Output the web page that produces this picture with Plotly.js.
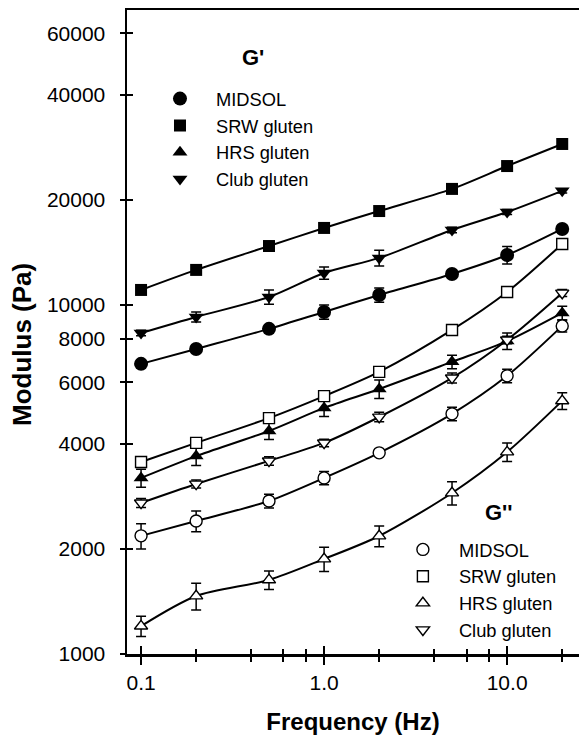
<!DOCTYPE html>
<html>
<head>
<meta charset="utf-8">
<script src="https://cdn.plot.ly/plotly-3.0.1.min.js"></script>
<style>html,body{margin:0;padding:0;background:#fff;}#chart{width:579px;height:736px;}</style>
</head>
<body>
<div id="chart"></div>
<script>
// ---- data ----
const freq = [0.1, 0.2, 0.5, 1, 2, 5, 10, 20];

const gp_midsol = [6780, 7480, 8540, 9550, 10680, 12270, 13900, 16510];
const gp_midsol_err = [150, 150, 200, 450, 500, 350, 800, 300];
const gp_srw = [11040, 12600, 14750, 16620, 18580, 21500, 25000, 28920];
const gp_srw_err = [200, 200, 250, 300, 300, 400, 450, 500];
const gp_hrs = [3195, 3690, 4355, 5070, 5745, 6870, 7880, 9490];
const gp_hrs_err = [190, 220, 240, 280, 350, 310, 430, 430];
const gp_club = [8310, 9240, 10540, 12350, 13640, 16400, 18460, 21230];
const gp_club_err = [150, 300, 500, 500, 700, 300, 300, 300];

const gpp_midsol = [2180, 2405, 2745, 3195, 3770, 4875, 6265, 8710];
const gpp_midsol_err = [180, 165, 125, 140, 70, 220, 280, 350];
const gpp_srw = [3550, 4025, 4740, 5480, 6430, 8480, 10890, 14950];
const gpp_srw_err = [100, 100, 100, 120, 150, 150, 200, 250];
const gpp_hrs = [1202, 1466, 1630, 1872, 2178, 2893, 3790, 5310];
const gpp_hrs_err = [80, 130, 100, 150, 150, 220, 230, 290];
const gpp_club = [2710, 3070, 3575, 4025, 4775, 6180, 7940, 10820];
const gpp_club_err = [80, 80, 100, 100, 150, 200, 200, 250];

const seriesNames = ["MIDSOL", "SRW gluten", "HRS gluten", "Club gluten"];
const legendTitles = ["G'", "G''"];

const xTickVals = [0.1, 1, 10];
const xTickText = ["0.1", "1.0", "10.0"];
const xMinorVals = [0.2, 0.4, 0.6, 0.8, 2, 4, 6, 8, 20];
const yTickVals = [1000, 2000, 4000, 6000, 8000, 10000, 20000, 40000, 60000];
const yTickText = ["1000", "2000", "4000", "6000", "8000", "10000", "20000", "40000", "60000"];

// ---- styling ----
const FONT = "Liberation Sans, Arial, Helvetica, sans-serif";
const xRange = [Math.log10(0.0838), Math.log10(24.7)];
const yRange = [3, 4.845];

const gpSets = [
  [gp_midsol, gp_midsol_err, {symbol: "circle", size: 14}],
  [gp_srw, gp_srw_err, {symbol: "square", size: 12}],
  [gp_hrs, gp_hrs_err, {symbol: "triangle-up", size: 13}],
  [gp_club, gp_club_err, {symbol: "triangle-down", size: 13}]
];
const gppSets = [
  [gpp_midsol, gpp_midsol_err, {symbol: "circle", size: 12}],
  [gpp_srw, gpp_srw_err, {symbol: "square", size: 11}],
  [gpp_hrs, gpp_hrs_err, {symbol: "triangle-up", size: 11.5}],
  [gpp_club, gpp_club_err, {symbol: "triangle-down", size: 11.5}]
];

const traces = [];
// smooth connecting curves (lower layer)
[...gpSets, ...gppSets].forEach(s => {
  traces.push({
    x: freq, y: s[0], mode: "lines", xaxis: "x", yaxis: "y",
    line: {color: "black", width: 2, shape: "spline", smoothing: 0.8},
    showlegend: false, hoverinfo: "skip"
  });
});
// markers with error bars (upper layer)
gpSets.forEach((s, i) => {
  traces.push({
    x: freq, y: s[0], mode: "markers", xaxis: "x2", yaxis: "y2",
    name: seriesNames[i], legend: "legend", legendgroup: "a" + i,
    marker: {symbol: s[2].symbol, size: s[2].size, color: "black", line: {width: 0}},
    error_y: {type: "data", array: s[1], visible: true, color: "black", thickness: 1.5, width: 5}
  });
});
gppSets.forEach((s, i) => {
  traces.push({
    x: freq, y: s[0], mode: "markers", xaxis: "x2", yaxis: "y2",
    name: seriesNames[i], legend: "legend2", legendgroup: "b" + i,
    marker: {symbol: s[2].symbol, size: s[2].size, color: "white", line: {width: 1.4, color: "black"}},
    error_y: {type: "data", array: s[1], visible: true, color: "black", thickness: 1.5, width: 5}
  });
});

const baseX = {
  type: "log", range: xRange, tickmode: "array", tickvals: xTickVals, ticktext: xTickText,
  tickcolor: "black", tickwidth: 2, showgrid: false, zeroline: false,
  tickfont: {family: FONT, size: 21, color: "black"}
};
const baseY = {
  type: "log", range: yRange, tickmode: "array", tickvals: yTickVals, ticktext: yTickText,
  tickcolor: "black", tickwidth: 2, showgrid: false, zeroline: false,
  tickfont: {family: FONT, size: 21, color: "black"}
};

const legendBase = {
  xanchor: "left", yanchor: "top",
  bgcolor: "rgba(0,0,0,0)", borderwidth: 0, tracegroupgap: 0, itemwidth: 62,
  font: {family: FONT, size: 18.3, color: "black"}
};

const layout = {
  width: 579, height: 736,
  margin: {l: 127, r: 0, t: 10, b: 82},
  paper_bgcolor: "white", plot_bgcolor: "white",
  font: {family: FONT, color: "black"},
  showlegend: true,
  xaxis: Object.assign({}, baseX, {
    ticks: "outside", ticklen: 8, showline: true, linewidth: 2.5, linecolor: "black", mirror: true,
    minor: {tickmode: "array", tickvals: xMinorVals, ticks: "outside", ticklen: 5, tickwidth: 2, tickcolor: "black", showgrid: false},
    title: {text: "Frequency (Hz)", font: {family: FONT, size: 24, weight: "bold", color: "black"}, standoff: 21}
  }),
  xaxis2: Object.assign({}, baseX, {
    overlaying: "x", anchor: "y2", side: "bottom",
    ticks: "inside", ticklen: 8, showline: false, showticklabels: false,
    minor: {tickmode: "array", tickvals: xMinorVals, ticks: "inside", ticklen: 5, tickwidth: 2, tickcolor: "black", showgrid: false}
  }),
  yaxis: Object.assign({}, baseY, {
    ticks: "outside", ticklen: 5, showline: true, linewidth: 2.5, linecolor: "black",
    ticklabelstandoff: 10
  }),
  yaxis2: Object.assign({}, baseY, {
    overlaying: "y", anchor: "x2", side: "left",
    ticks: "inside", ticklen: 6, showline: false, showticklabels: false
  }),
  legend: Object.assign({}, legendBase, {x: 0.0376, y: 0.891}),
  legend2: Object.assign({}, legendBase, {x: 0.575, y: 0.191}),
  annotations: [
    {text: "Modulus (Pa)", xref: "paper", yref: "paper", x: -0.232, y: 0.48,
     xanchor: "center", yanchor: "middle", textangle: -90, showarrow: false,
     font: {family: FONT, size: 26, weight: "bold", color: "black"}},
    {text: legendTitles[0], xref: "paper", yref: "paper", x: 0.279, y: 0.9255,
     xanchor: "center", yanchor: "middle", showarrow: false,
     font: {family: FONT, size: 22, weight: "bold", color: "black"}},
    {text: legendTitles[1], xref: "paper", yref: "paper", x: 0.823, y: 0.219,
     xanchor: "center", yanchor: "middle", showarrow: false,
     font: {family: FONT, size: 22, weight: "bold", color: "black"}}
  ]
};

Plotly.newPlot("chart", traces, layout, {staticPlot: true, displayModeBar: false});
</script>
</body>
</html>
